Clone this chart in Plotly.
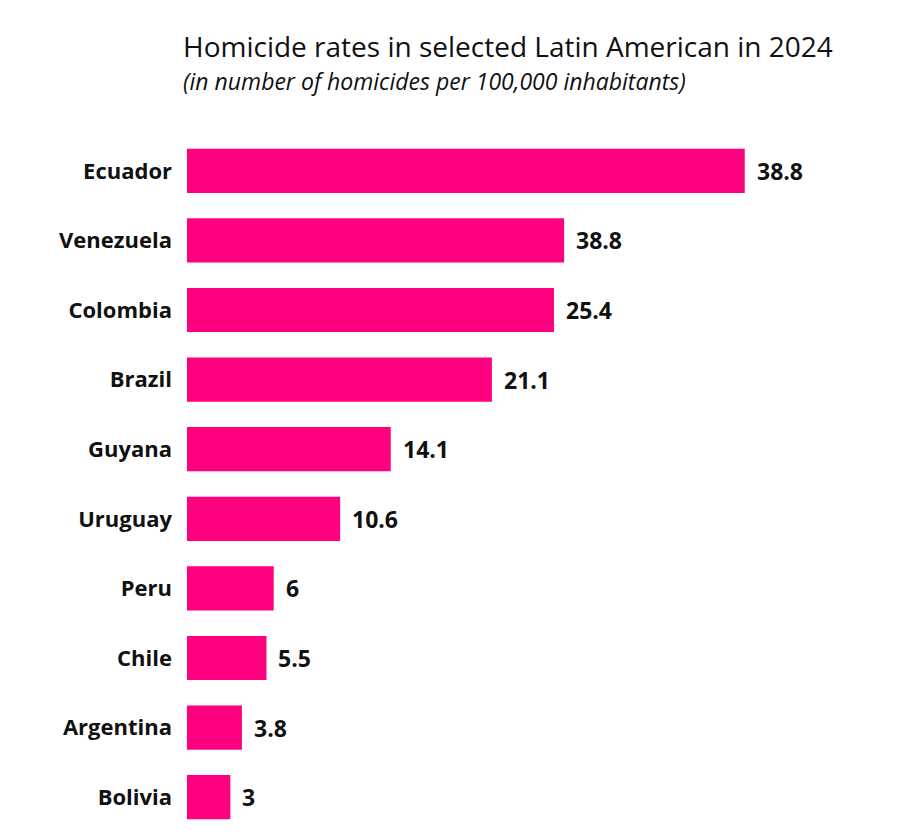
import plotly.graph_objects as go

countries = ["Ecuador", "Venezuela", "Colombia", "Brazil", "Guyana",
             "Uruguay", "Peru", "Chile", "Argentina", "Bolivia"]
bar_values = [38.6, 26.1, 25.4, 21.1, 14.1, 10.6, 6.0, 5.5, 3.8, 3.0]
value_labels = ["38.8", "38.8", "25.4", "21.1", "14.1", "10.6", "6", "5.5", "3.8", "3"]

title_text = "Homicide rates in selected Latin American in 2024"
subtitle_text = "(in number of homicides per 100,000 inhabitants)"

BAR_COLOR = "#FF0080"
FONT = "Open Sans"
OFF = 8  # page body margin

W, H = 900, 838
L, R, T, B = 187 - OFF, 17 + OFF, 136 - OFF, 6 + OFF
pw, ph = W - L - R, H - T - B

fig = go.Figure()
fig.add_trace(go.Bar(
    x=bar_values,
    y=countries,
    orientation="h",
    marker=dict(color=BAR_COLOR, line=dict(width=0)),
    hoverinfo="skip",
))

annotations = []
for c, v, lab in zip(countries, bar_values, value_labels):
    annotations.append(dict(
        x=v, y=c, xref="x", yref="y", text="<b>" + lab + "</b>",
        showarrow=False, xanchor="left", yanchor="middle", xshift=10,
        font=dict(family=FONT, size=23, color="#111111"),
    ))

def px_to_paper(xp, yp):
    return (xp - OFF - L) / pw, (H - B - (yp - OFF)) / ph

tx, ty = px_to_paper(183, 46)
sx, sy = px_to_paper(183, 81)
annotations.append(dict(
    x=tx, y=ty, xref="paper", yref="paper", text=title_text,
    showarrow=False, xanchor="left", yanchor="middle", xshift=-2,
    font=dict(family=FONT, size=28, color="#111111"),
))
annotations.append(dict(
    x=sx, y=sy, xref="paper", yref="paper", text="<i>" + subtitle_text + "</i>",
    showarrow=False, xanchor="left", yanchor="middle", xshift=-2,
    font=dict(family=FONT, size=23, color="#111111"),
))

fig.update_layout(
    width=W, height=H,
    margin=dict(l=L, r=R, t=T, b=B),
    paper_bgcolor="white", plot_bgcolor="white",
    bargap=0.365,
    showlegend=False,
    annotations=annotations,
    xaxis=dict(range=[0, pw / 14.45], visible=False, fixedrange=True),
    yaxis=dict(
        categoryorder="array", categoryarray=countries[::-1],
        showgrid=False, zeroline=False, showline=False, ticks="",
        ticklabelstandoff=14,
        tickfont=dict(family=FONT, size=22, color="#111111", weight="bold"),
        fixedrange=True,
    ),
)

fig.write_html("out.html")
